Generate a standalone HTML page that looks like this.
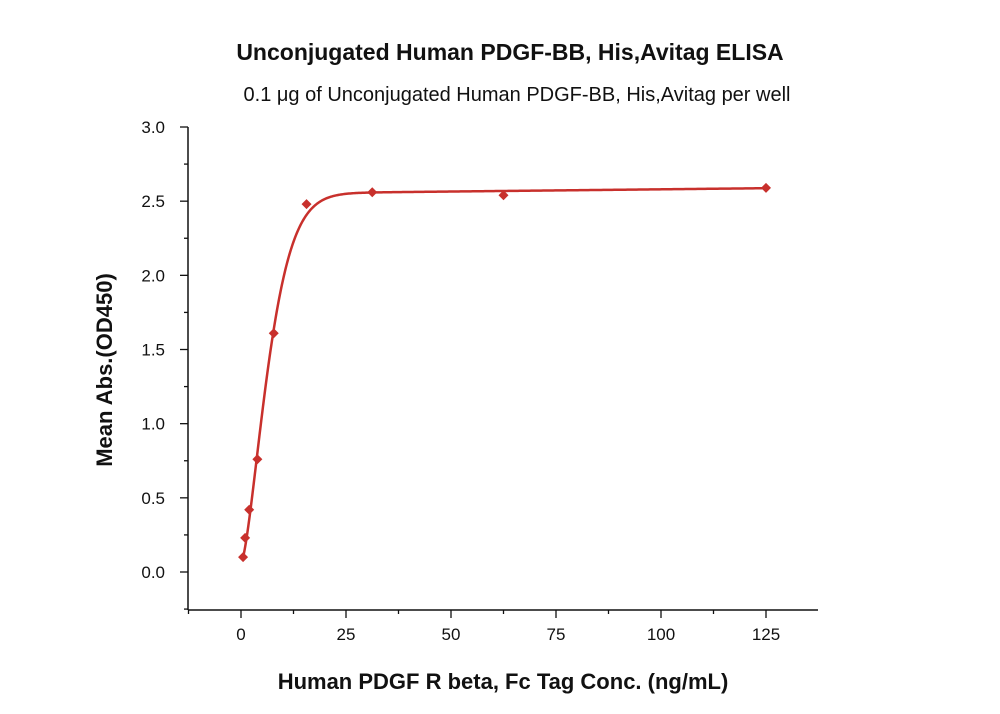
<!DOCTYPE html>
<html><head><meta charset="utf-8"><style>
body{margin:0;background:#fff;}
svg{display:block;font-family:"Liberation Sans",sans-serif;}
</style></head><body>
<svg id="chart" width="1000" height="714" viewBox="0 0 1000 714">
<text x="510" y="60" text-anchor="middle" font-size="23" font-weight="bold" fill="#111">Unconjugated Human PDGF-BB, His,Avitag ELISA</text>
<text x="517" y="101" text-anchor="middle" font-size="20" fill="#111">0.1 μg of Unconjugated Human PDGF-BB, His,Avitag per well</text>
<text transform="translate(112,370) rotate(-90)" text-anchor="middle" font-size="22" font-weight="bold" fill="#111">Mean Abs.(OD450)</text>
<text x="503" y="689" text-anchor="middle" font-size="22" font-weight="bold" fill="#111">Human PDGF R beta, Fc Tag Conc. (ng/mL)</text>
<g id="axes"></g>
<g id="marks"></g>
</svg>
<script>
const xValues=[0.49,0.98,1.95,3.9,7.8,15.6,31.25,62.5,125];
const yValues=[0.10,0.23,0.42,0.76,1.61,2.48,2.56,2.54,2.59];
const xTicks=[0,25,50,75,100,125];
const yTicks=[0.0,0.5,1.0,1.5,2.0,2.5,3.0];
const fitParams=[0.06,2.49,7.8,1.5,0.0003];
const X=v=>241+(v)*4.2, Y=v=>572-v*148.33;
const ns='http://www.w3.org/2000/svg';
const ax=document.getElementById('axes'), mk=document.getElementById('marks');
function el(t,a,p){const n=document.createElementNS(ns,t);for(const k in a)n.setAttribute(k,a[k]);p.appendChild(n);return n;}
let e;
e=el('line',{x1:188,y1:610,x2:818,y2:610,stroke:'#111','stroke-width':1.5},ax);


e=el('line',{x1:188,y1:127,x2:188,y2:610,stroke:'#111','stroke-width':1.5},ax);


for(let v=-12.5;v<=137.5;v+=12.5){const x=X(v);if(x<188||x>818)continue;const major=v%25===0;
 e=el('line',{x1:x,y1:610,x2:x,y2:major?618:614,stroke:'#111','stroke-width':1.3},ax);
 
 }
xTicks.forEach(v=>{e=el('text',{x:X(v),y:640,'text-anchor':'middle','font-size':17,fill:'#111'},ax);e.textContent=v;
 
 });
for(let v=-0.25;v<=3.0001;v+=0.25){const y=Y(v);const major=Math.abs(v*2-Math.round(v*2))<1e-6;
 e=el('line',{x1:188,y1:y,x2:major?180:184,y2:y,stroke:'#111','stroke-width':1.3},ax);
 
 }
yTicks.forEach(v=>{e=el('text',{x:165,y:Y(v)+6,'text-anchor':'end','font-size':17,fill:'#111'},ax);e.textContent=v.toFixed(1);
 
 });
const fb0=fitParams[0],topV=fitParams[1],fc=fitParams[2],fh=fitParams[3],fs=fitParams[4];
const fit=x=>fb0+topV*(1-Math.exp(-Math.pow(x/fc,fh)))+fs*x;
let pd='';for(let i=0;i<=400;i++){const x=xValues[0]+(125-xValues[0])*Math.pow(i/400,2);pd+=(i?'L':'M')+X(x).toFixed(2)+','+Y(fit(x)).toFixed(2);}
e=el('path',{d:pd,fill:'none',stroke:'#c8302c','stroke-width':2.5},mk);


xValues.forEach((x,i)=>{const px=X(x),py=Y(yValues[i]);
 e=el('polygon',{points:`${px},${py-5} ${px+5},${py} ${px},${py+5} ${px-5},${py}`,fill:'#c8302c'},mk);
 
 });
</script>
</body></html>
